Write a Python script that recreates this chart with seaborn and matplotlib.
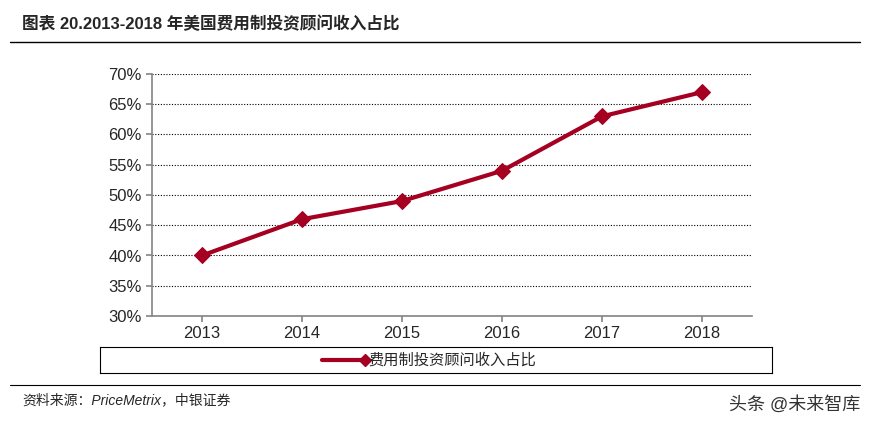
import matplotlib.pyplot as plt
import seaborn as sns
from matplotlib.lines import Line2D
import pandas as pd

sns.set_theme(style="white")
plt.rcParams['font.family'] = ['Liberation Sans', 'Noto Sans CJK SC', 'DejaVu Sans']

years = ["2013", "2014", "2015", "2016", "2017", "2018"]
share = [40, 46, 49, 54, 63, 67]
series_name = "费用制投资顾问收入占比"
yticks = [30, 35, 40, 45, 50, 55, 60, 65, 70]
red = "#A50021"

df = pd.DataFrame({"year": years, "share": share})

fig = plt.figure(figsize=(8.85, 4.26), dpi=100)
ax = fig.add_axes([152 / 885, 1 - 316 / 426, 600 / 885, 242 / 426])
sns.lineplot(data=df, x="year", y="share", ax=ax, color=red, linewidth=3,
             marker="D", markersize=8, markeredgecolor=red, sort=False)
ax.set_xlim(-0.5, 5.5)
ax.set_ylim(30, 70)
ax.set_yticks(yticks)
ax.set_yticklabels([f"{v}%" for v in yticks], fontsize=12)
ax.tick_params(axis="x", labelsize=12)
ax.set_xlabel("")
ax.set_ylabel("")
for v in yticks[1:]:
    ax.axhline(v, color="black", linestyle=(0, (1, 1.5)), linewidth=0.8, zorder=0)
for s in ["top", "right"]:
    ax.spines[s].set_visible(False)
ax.spines["left"].set_color("#888888")
ax.spines["bottom"].set_color("#888888")
ax.tick_params(axis="both", length=4, color="#888888", direction="out", left=True, bottom=True)

# legend box
leg_ax = fig.add_axes([100 / 885, 1 - 373 / 426, 672 / 885, 26 / 426])
leg_ax.set_xticks([]); leg_ax.set_yticks([])
for s in leg_ax.spines.values():
    s.set_color("black"); s.set_linewidth(0.8)
leg_ax.add_line(Line2D([0.33, 0.395], [0.5, 0.5], color=red, linewidth=3,
                       marker="D", markevery=[1], markersize=6, transform=leg_ax.transAxes))
leg_ax.text(0.4, 0.5, series_name, transform=leg_ax.transAxes, va="center", fontsize=11)

fig.text(22 / 885, 1 - 24 / 426, "图表 20.2013-2018 年美国费用制投资顾问收入占比",
         fontsize=12, fontweight="bold", va="center")
fig.add_artist(Line2D([10 / 885, 860 / 885], [1 - 42 / 426] * 2, color="black", linewidth=1))
fig.add_artist(Line2D([10 / 885, 860 / 885], [1 - 385 / 426] * 2, color="black", linewidth=0.8))
fig.text(22 / 885, 1 - 400 / 426, "资料来源：PriceMetrix，中银证券", fontsize=10,
         style="italic", va="center")
fig.text(860 / 885, 1 - 405 / 426, "头条 @未来智库", fontsize=13, ha="right", va="center",
         color="#333333")

fig.savefig("out.png", dpi=100)
